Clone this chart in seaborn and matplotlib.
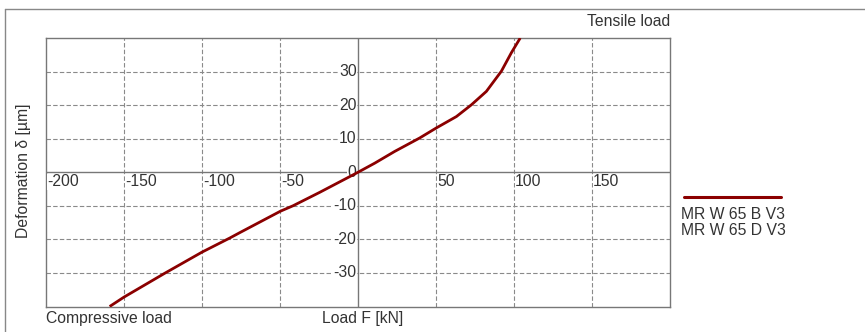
import matplotlib
matplotlib.use("Agg")
import matplotlib.pyplot as plt
from matplotlib.lines import Line2D
import seaborn as sns
import pandas as pd

# Data
load_kN = [-159.2, -150, -123.9, -100, -82.2, -75.8, -49.7, -41.7, -24.6, -5.3, 0,
           10.7, 23.5, 39.5, 50.2, 63.1, 72.7, 82.3, 91.9, 98.3, 104]
deform_um = [-40, -37.2, -30.1, -23.8, -19.6, -18, -11.6, -10, -6.0, -1.3, 0,
             2.7, 6.2, 10.2, 13.2, 16.6, 20.1, 24.1, 30.1, 35.6, 40]
x_ticks = [-200, -150, -100, -50, 50, 100, 150]
y_ticks = [30, 20, 10, 0, -10, -20, -30]
series_names = ["MR W 65 B V3", "MR W 65 D V3"]

sns.set_style("white")
plt.rcParams['font.family'] = ['Liberation Sans', 'DejaVu Sans']

TXT = "#333333"
GRID = "#8a8a8a"
SPINE = "#777777"
RED = "#8b0000"
FS = 11.3

fig = plt.figure(figsize=(8.65, 3.32), dpi=100)
W, H = 865, 332
ax = fig.add_axes([46 / W, 1 - 306.5 / H, (670 - 46) / W, (306.5 - 38) / H])

df = pd.DataFrame({"F": load_kN, "d": deform_um})
sns.lineplot(data=df, x="F", y="d", sort=False, estimator=None, color=RED,
             linewidth=2.0, ax=ax, zorder=5)
for l in ax.lines:
    l.set_solid_joinstyle("round")
    l.set_solid_capstyle("butt")

ax.set_xlim(-200, 200)
ax.set_ylim(-40, 40)
ax.set_xticks([])
ax.set_yticks([])
ax.set_xlabel("")
ax.set_ylabel("")
for s in ax.spines.values():
    s.set_color(SPINE)
    s.set_linewidth(1.0)

# grid
for xv in x_ticks:
    if xv != -200:
        ax.axvline(xv, color=GRID, lw=0.8, ls=(0, (4, 2)), zorder=1)
for yv in y_ticks:
    if yv != 0:
        ax.axhline(yv, color=GRID, lw=0.8, ls=(0, (4, 2)), zorder=1)
ax.axvline(0, color=SPINE, lw=1.0, zorder=2)
ax.axhline(0, color=SPINE, lw=1.0, zorder=2)

# tick labels
for xv in x_ticks:
    ax.annotate(f"{xv}", xy=(xv, 0), xytext=(0.8, -1.5), textcoords="offset points",
                ha="left", va="top", fontsize=FS, color=TXT, zorder=3,
                bbox=dict(facecolor="white", edgecolor="none", pad=0.3))
for yv in y_ticks:
    ax.annotate(f"{yv}", xy=(0, yv), xytext=(-1, 0), textcoords="offset points",
                ha="right", va="center", fontsize=FS, color=TXT, zorder=3,
                bbox=dict(facecolor="white", edgecolor="none", pad=0.3))

# annotations
fig.text(670 / W, 1 - 22 / H, "Tensile load", ha="right", va="center", fontsize=FS, color=TXT)
fig.text(46 / W, 1 - 318 / H, "Compressive load", ha="left", va="center", fontsize=FS, color=TXT)
fig.text(403 / W, 1 - 318 / H, "Load F [kN]", ha="right", va="center", fontsize=FS, color=TXT)
fig.text(24 / W, 1 - 170.5 / H, "Deformation δ [µm]", ha="center", va="center",
         rotation=90, fontsize=FS, color=TXT)

# legend
fig.add_artist(Line2D([684 / W, 781 / W], [1 - 197 / H, 1 - 197 / H], color=RED, lw=2.2))
fig.text(681 / W, 1 - 214.5 / H, series_names[0], ha="left", va="center", fontsize=FS, color=TXT)
fig.text(681 / W, 1 - 230.5 / H, series_names[1], ha="left", va="center", fontsize=FS, color=TXT)

# outer frame
fig.add_artist(Line2D([4.5 / W, 1.0], [1 - 9 / H, 1 - 9 / H], color="#888888", lw=1.0))
fig.add_artist(Line2D([4.5 / W, 4.5 / W], [0, 1 - 9 / H], color="#888888", lw=1.0))

fig.savefig("out.png", dpi=100)
